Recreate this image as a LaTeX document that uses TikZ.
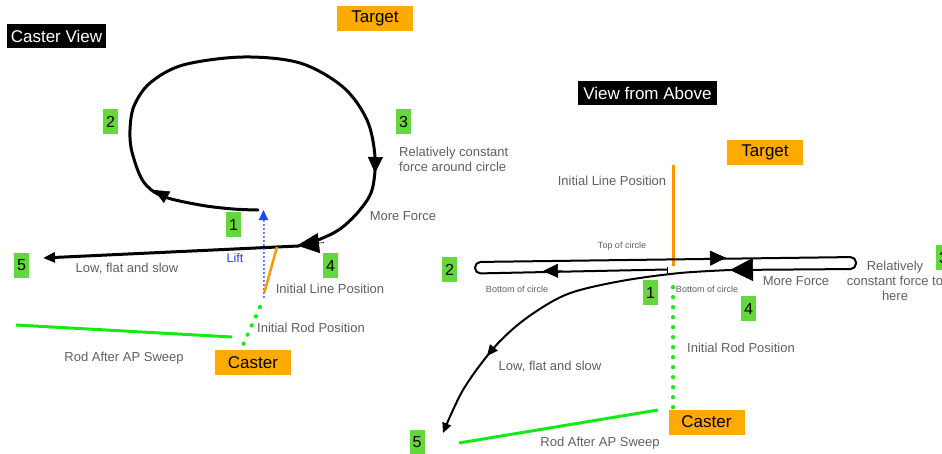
\documentclass[tikz,border=0pt]{standalone}
\usepackage{fontspec}
\setmainfont{Liberation Sans}
\usetikzlibrary{arrows.meta}
\definecolor{numgreen}{RGB}{100,215,60}
\definecolor{boxorange}{RGB}{255,170,0}
\definecolor{lineorange}{RGB}{255,150,0}
\definecolor{rodgreen}{RGB}{20,235,20}
\definecolor{liftblue}{RGB}{30,70,255}
\definecolor{txtgray}{RGB}{95,95,95}
\begin{document}
\begin{tikzpicture}[x=1pt,y=-1pt,
  numbox/.style={fill=numgreen, minimum width=15pt, minimum height=25pt, inner sep=0pt, font=\fontsize{16}{16}\selectfont},
  tagbox/.style={fill=boxorange, minimum width=76pt, minimum height=25pt, inner sep=0pt, font=\fontsize{17}{17}\selectfont},
  titlebox/.style={fill=black, text=white, minimum height=24pt, inner sep=0pt, font=\fontsize{17}{17}\selectfont},
  note/.style={text=txtgray, inner sep=0pt, font=\fontsize{13}{15}\selectfont},
  smallnote/.style={text=txtgray, inner sep=0pt, font=\fontsize{9}{9}\selectfont},
  thickpath/.style={line width=3pt, line cap=round, line join=round},
  thinpath/.style={line width=2pt, line cap=round, line join=round},
  tipmark/.style={line width=0.6pt},
  roddots/.style={rodgreen, line width=4pt, line cap=round, dash pattern=on 0.4pt off 9.6pt},
  rodline/.style={rodgreen, line width=3pt},
  orangeline/.style={lineorange, line width=2.5pt}
]
\useasboundingbox (0,0) rectangle (942,453);

% ---------------- Left: Caster View ----------------
\node[titlebox, minimum width=99pt] (cv) at (56.5,36) {Caster View};
\node[tagbox] (tgtL) at (375,18) {Target};
\node[numbox] (n2L) at (110.5,121.5) {2};
\node[numbox] (n3L) at (403.5,121.5) {3};
\node[numbox] (n1L) at (233.5,224.5) {1};
\node[numbox] (n5L) at (21.5,265.5) {5};
\node[numbox] (n4L) at (330.5,265.5) {4};
\node[note, anchor=west, align=left] (relL) at (399,159.5) {Relatively constant\\force around circle};
\node[note] (mfL) at (403,216) {More Force};
\node[note] (lowL) at (127,269) {Low, flat and slow};
\node[note] (ilpL) at (330,289) {Initial Line Position};
\node[note] (irpL) at (311,328) {Initial Rod Position};
\node[note] (rodL) at (124,358) {Rod After AP Sweep};
\node[tagbox] (casL) at (253,362.5) {Caster};
\node[text=liftblue, inner sep=0pt, font=\fontsize{12.5}{13}\selectfont] (lift) at (235,258) {Lift};

\coordinate (loopStart) at (258,210);
\coordinate (loopEnd) at (298,246);
\coordinate (fiveEnd) at (43,258);

\draw[thickpath] plot[smooth, tension=0.55] coordinates {(258,210) (233,209) (200,205) (162,196) (143,181) (132,152) (130,130) (134,106) (150,83) (183,65) (243,57) (300,63) (343,87) (367,120) (375,157) (372,190) (359,211) (340,229) (318,240) (298,246)};
\draw[thickpath, -{Triangle[length=12pt,width=10pt]}] (loopEnd) -- (fiveEnd);
\draw[tipmark, -{Triangle[length=15pt,width=13pt]}] (172,200) -- (154,190);
\draw[tipmark, -{Triangle[length=16pt,width=15pt]}] (375.5,152) -- (375,173);
\draw[tipmark, -{Triangle[length=22pt,width=20pt]}] (324,242.5) -- (297,245.5);

% lift arrow
\coordinate (liftBot) at (263.5,297);
\coordinate (liftTop) at (263.5,210);
\draw[liftblue, line width=2pt, line cap=round, dash pattern=on 0.2pt off 3.8pt, -{Triangle[length=10pt,width=9pt]}] (liftBot) -- (liftTop);

% initial line, rods
\draw[orangeline] (277,247) -- (264.5,292);
\draw[roddots] (260,307) -- (243,345);
\draw[rodline] (16,325) -- (232,337);

% ---------------- Right: View from Above ----------------
\node[titlebox, minimum width=139pt] (va) at (647.5,93) {View from Above};
\node[tagbox] (tgtR) at (765,152.5) {Target};
\node[note] (ilpR) at (612,181) {Initial Line Position};
\node[smallnote] (topc) at (622,246) {Top of circle};
\node[numbox] (n2R) at (449.5,269.5) {2};
\node[smallnote] (botc1) at (517,289) {Bottom of circle};
\node[numbox] (n1R) at (650.5,292.5) {1};
\node[smallnote] (botc2) at (707,289) {Bottom of circle};
\node[note] (mfR) at (796,281) {More Force};
\node[numbox] (n4R) at (748.5,308.5) {4};
\node[note, align=center] (relR) at (895,281) {Relatively\\constant force to\\here};
\node[numbox] (n3R) at (943.5,257.5) {3};
\node[note] (irpR) at (741,348) {Initial Rod Position};
\node[note] (lowR) at (550,367) {Low, flat and slow};
\node[tagbox] (casR) at (706.5,422) {Caster};
\node[note] (rodR) at (600,443) {Rod After AP Sweep};
\node[numbox] (n5R) at (417,442.5) {5};

% initial line position (vertical)
\draw[orangeline, line width=3pt] (673,165) -- (673,266);

% racetrack loop
\draw[thinpath, rounded corners=5.5pt] (667,269.5) -- (475,273.5) -- (475,262) -- (856,257) -- (856,269) -- (730,270);
\draw[line width=1pt] (667,266.5) -- (667,272.5);
\draw[thinpath, -{Triangle[length=10pt,width=9pt]}] plot[smooth, tension=0.55] coordinates {(730,270) (680,273) (627,280) (580,290) (553,301) (520,323) (492,350) (463,390) (443,433)};
\draw[tipmark, -{Triangle[length=16pt,width=15pt]}] (705,258.3) -- (726,257.8);
\draw[tipmark, -{Triangle[length=23pt,width=23pt]}] (756,269.5) -- (730,270);
\draw[tipmark, -{Triangle[length=15pt,width=14pt]}] (562,270.7) -- (543,271.1);
\draw[tipmark, -{Triangle[length=11pt,width=10pt]}] (500,340) -- (487,356);

% rods
\draw[roddots] (673,287) -- (673,409);
\draw[rodline] (459,443) -- (658,410);
\end{tikzpicture}
\end{document}
